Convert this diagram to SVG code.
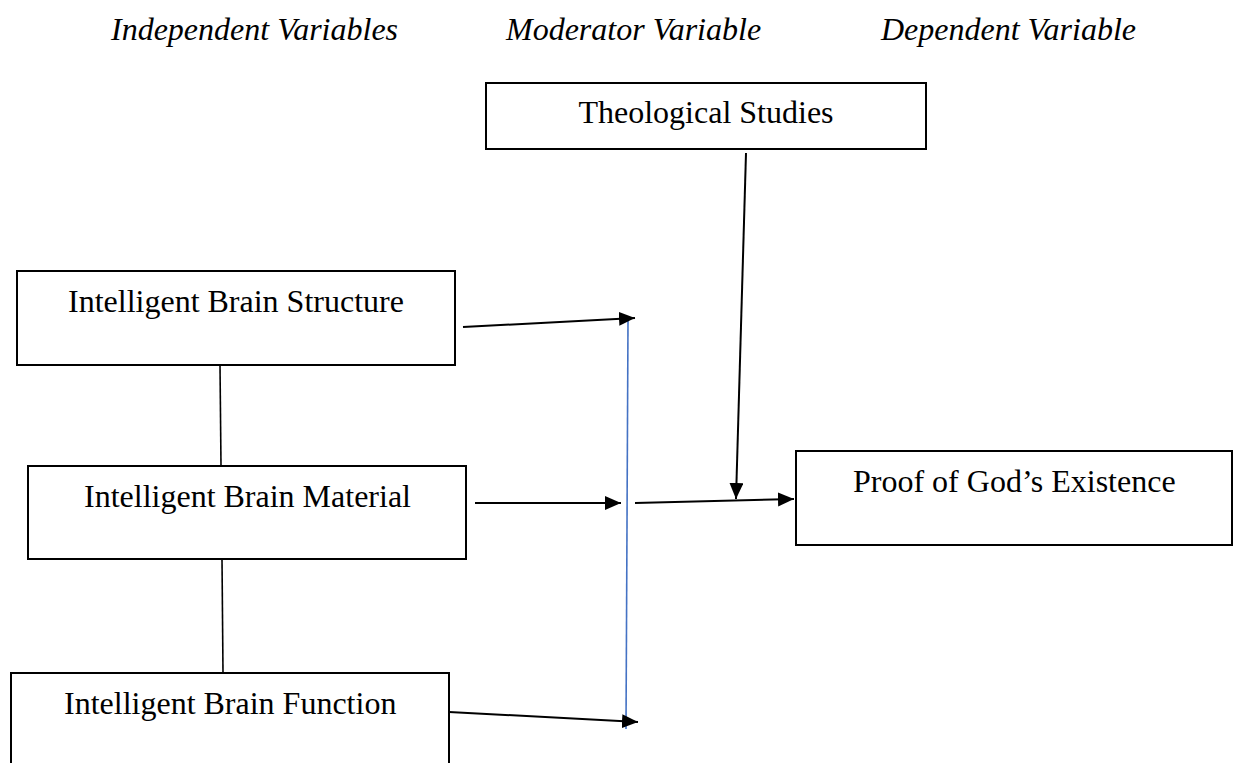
<svg xmlns="http://www.w3.org/2000/svg" width="1233" height="763" viewBox="0 0 1233 763">
<style>
.box{fill:#fff;stroke:#000;stroke-width:2}
.t{font-family:"Liberation Serif","Times New Roman",serif;font-size:32px;fill:#000}
.h{font-style:italic}
.ln{stroke:#000;stroke-width:1.6;fill:none}
.ar{stroke:#000;stroke-width:2;fill:none;marker-end:url(#ah)}
.blue{stroke:#4472C4;stroke-width:1.6;fill:none}
</style>
<defs>
<marker id="ah" markerUnits="userSpaceOnUse" markerWidth="17" markerHeight="15" refX="16" refY="7" orient="auto">
<path d="M0,0 L16,7 L0,14 z" fill="#000"/>
</marker>
</defs>
<rect width="1233" height="763" fill="#fff"/>
<g id="headers">
<text class="t h" x="111" y="40">Independent Variables</text>
<text class="t h" x="506" y="40">Moderator Variable</text>
<text class="t h" x="881" y="40">Dependent Variable</text>
</g>
<g id="theological">
<rect class="box" x="486" y="83" width="440" height="66"/>
<text class="t" x="706" y="123" text-anchor="middle">Theological Studies</text>
</g>
<g id="structure">
<rect class="box" x="17" y="271" width="438" height="94"/>
<text class="t" x="68" y="312">Intelligent Brain Structure</text>
</g>
<g id="material">
<rect class="box" x="28" y="466" width="438" height="93"/>
<text class="t" x="84" y="507">Intelligent Brain Material</text>
</g>
<g id="function">
<rect class="box" x="11" y="673" width="438" height="100"/>
<text class="t" x="64" y="714">Intelligent Brain Function</text>
</g>
<g id="proof">
<rect class="box" x="796" y="451" width="436" height="94"/>
<text class="t" x="853" y="492">Proof of God’s Existence</text>
</g>
<g id="connectors">
<line class="ln" x1="220" y1="365" x2="221" y2="466"/>
<line class="ln" x1="222" y1="559" x2="223" y2="673"/>
<line class="blue" x1="628" y1="321" x2="626" y2="729"/>
<line class="ar" x1="463" y1="327" x2="635" y2="318"/>
<line class="ar" x1="475" y1="503" x2="621" y2="503"/>
<line class="ar" x1="449" y1="712" x2="638" y2="722"/>
<line class="ar" x1="635" y1="503" x2="794" y2="499"/>
<line class="ar" x1="746" y1="153" x2="736" y2="499"/>
</g>
</svg>
